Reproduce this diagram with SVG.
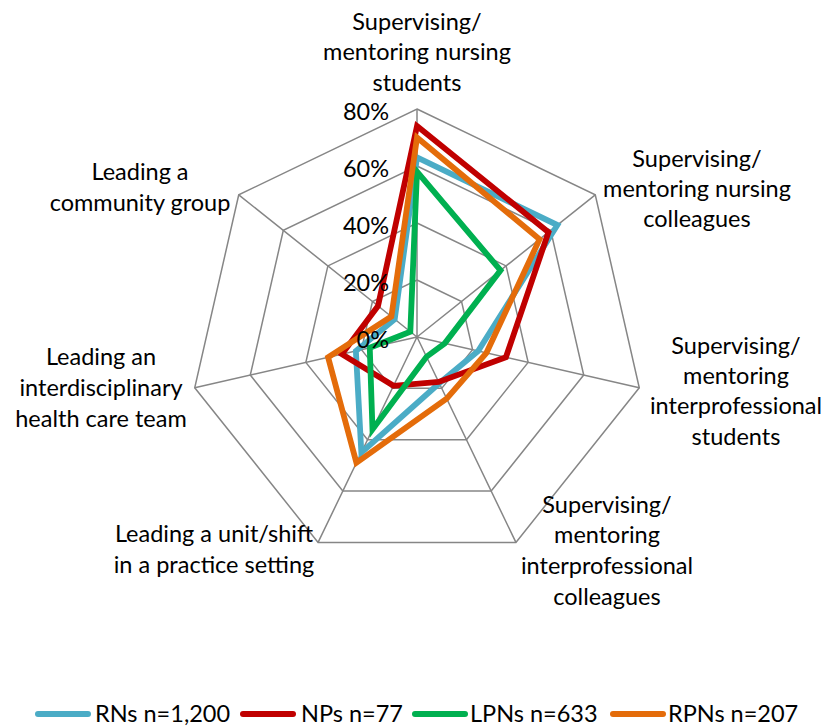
<svg xmlns="http://www.w3.org/2000/svg" width="823" height="727" viewBox="0 0 823 727">
<style>
text{font-family:Lato,"Liberation Sans",sans-serif;font-size:23.5px;fill:#000}
.lbl{text-anchor:middle}
.pct{text-anchor:end}
.grid{fill:none;stroke:#868686;stroke-width:1.5}
.series{fill:none;stroke-width:5.8;stroke-linejoin:miter;stroke-miterlimit:10}
.leg{stroke-width:6;stroke-linecap:round}
</style>
<rect width="823" height="727" fill="#fff"/>
<g id="grid">
<polygon class="grid" points="417,109 595.26,194.84 639.28,387.73 515.92,542.42 318.08,542.42 194.72,387.73 238.74,194.84"/>
<polygon class="grid" points="417,166 550.69,230.38 583.71,375.05 491.19,491.07 342.81,491.07 250.29,375.05 283.31,230.38"/>
<polygon class="grid" points="417,223 506.13,265.92 528.14,362.37 466.46,439.71 367.54,439.71 305.86,362.37 327.87,265.92"/>
<polygon class="grid" points="417,280 461.56,301.46 472.57,349.68 441.73,388.36 392.27,388.36 361.43,349.68 372.44,301.46"/>
<path class="grid" d="M417,337L417,109M417,337L595.26,194.84M417,337L639.28,387.73M417,337L515.92,542.42M417,337L318.08,542.42M417,337L194.72,387.73M417,337L238.74,194.84"/>
</g>
<g id="series">
<polygon id="RNs" class="series" stroke="#4BACC6" points="417,157.45 557.38,225.05 478.13,350.95 439.26,383.22 361.36,452.55 355.87,350.95 394.72,319.23"/>
<polygon id="NPs" class="series" stroke="#C00000" points="417,126.1 548.46,232.16 505.91,357.29 438.64,381.94 393.51,385.79 341.98,354.12 378.01,305.9"/>
<polygon id="LPNs" class="series" stroke="#00B050" points="417,171.7 500.56,270.36 444.79,343.34 426.52,356.77 372.48,429.44 369.76,347.78 410.32,331.67"/>
<polygon id="RPNs" class="series" stroke="#E46C0A" points="417,137.5 539.55,239.27 486.46,352.85 446.68,398.63 356.41,462.82 328.09,357.29 391.38,316.56"/>
</g>
<g id="axis-labels">
<text class="pct" x="389" y="120">80%</text>
<text class="pct" x="389" y="177">60%</text>
<text class="pct" x="389" y="234">40%</text>
<text class="pct" x="389" y="291">20%</text>
<text class="pct" x="389" y="348">0%</text>
</g>
<g id="node-nursing-students"><text class="lbl" x="417" y="30">Supervising/</text><text class="lbl" x="417" y="60">mentoring nursing</text><text class="lbl" x="417" y="91">students</text></g>
<g id="node-nursing-colleagues"><text class="lbl" x="697" y="167">Supervising/</text><text class="lbl" x="697" y="197">mentoring nursing</text><text class="lbl" x="697" y="227">colleagues</text></g>
<g id="node-interprof-students"><text class="lbl" x="736" y="354">Supervising/</text><text class="lbl" x="736" y="384">mentoring</text><text class="lbl" x="736" y="414">interprofessional</text><text class="lbl" x="736" y="445">students</text></g>
<g id="node-interprof-colleagues"><text class="lbl" x="607" y="513">Supervising/</text><text class="lbl" x="607" y="543">mentoring</text><text class="lbl" x="607" y="574">interprofessional</text><text class="lbl" x="607" y="605">colleagues</text></g>
<g id="node-unit-shift"><text class="lbl" x="214" y="542">Leading a unit/shift</text><text class="lbl" x="214" y="573">in a practice setting</text></g>
<g id="node-interdisciplinary"><text class="lbl" x="101" y="365">Leading an</text><text class="lbl" x="101" y="396">interdisciplinary</text><text class="lbl" x="101" y="427">health care team</text></g>
<g id="node-community"><text class="lbl" x="140" y="180">Leading a</text><text class="lbl" x="140" y="211">community group</text></g>
<g id="legend">
<line class="leg" x1="38" y1="714" x2="88" y2="714" stroke="#4BACC6"/>
<text x="95" y="722">RNs n=1,200</text>
<line class="leg" x1="243" y1="714" x2="293" y2="714" stroke="#C00000"/>
<text x="301" y="722">NPs n=77</text>
<line class="leg" x1="415" y1="714" x2="465" y2="714" stroke="#00B050"/>
<text x="470" y="722">LPNs n=633</text>
<line class="leg" x1="613" y1="714" x2="663" y2="714" stroke="#E46C0A"/>
<text x="668" y="722">RPNs n=207</text>
</g>
</svg>
